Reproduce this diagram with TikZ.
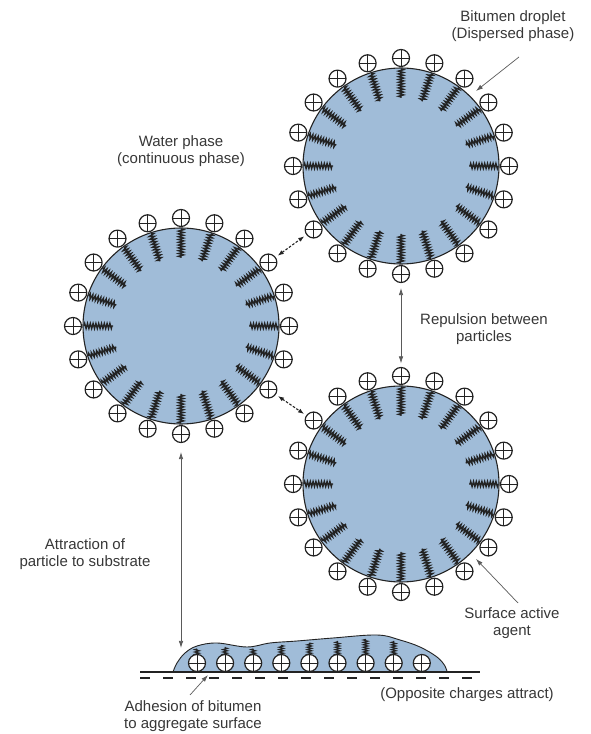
\documentclass[tikz,border=0pt]{standalone}
\usepackage{fontspec}
\setmainfont{Liberation Sans}
\usetikzlibrary{decorations.pathmorphing,arrows.meta}

\definecolor{bitumen}{RGB}{160,188,216}
\definecolor{ink}{RGB}{35,35,35}
\definecolor{txt}{RGB}{55,55,55}

\tikzset{
  droplet/.style={circle, draw=ink, line width=1.1pt, fill=bitumen,
    minimum size=196pt, inner sep=0pt},
  charge/.style={circle, draw=ink, line width=1.2pt, fill=white,
    minimum size=17pt, inner sep=0pt,
    path picture={\draw[ink, line width=0.9pt]
      (path picture bounding box.north) -- (path picture bounding box.south)
      (path picture bounding box.west) -- (path picture bounding box.east);}},
  tail/.style={draw=ink, line width=1.35pt, decorate,
    decoration={zigzag, amplitude=2.6pt, segment length=2.8pt}},
  filmtail/.style={draw=ink, line width=1.1pt, decorate,
    decoration={zigzag, amplitude=2.3pt, segment length=2.4pt}},
  film/.style={draw=ink, line width=0.9pt, fill=bitumen},
  lbl/.style={font=\fontsize{15}{17}\selectfont, text=txt, align=center, inner sep=0pt},
  force/.style={draw=ink!75, line width=0.7pt,
    {Latex[length=7pt,width=4.5pt]}-{Latex[length=7pt,width=4.5pt]}},
  bond/.style={draw=ink, line width=1.1pt, dash pattern=on 2.6pt off 1.6pt,
    {Latex[length=6pt,width=4.5pt]}-{Latex[length=6pt,width=4.5pt]},
    shorten <=2.5pt, shorten >=2.5pt},
  pointer/.style={draw=ink!75, line width=0.7pt, -{Latex[length=7pt,width=4.5pt]}},
}

\begin{document}
\begin{tikzpicture}[x=1pt,y=1pt]
\useasboundingbox (0,0) rectangle (590,734);

% the three droplets
\node[droplet] (d1) at (401,568) {};
\node[droplet] (d2) at (181,408) {};
\node[droplet] (d3) at (401,250) {};

% emulsifier tails and surface charges round each droplet
\foreach \d in {d1,d2,d3} {
  \foreach \k in {0,...,19} {
    \draw[tail] ([shift={(\k*18:97)}]\d.center) -- ([shift={(\k*18:68)}]\d.center);
  }
  \foreach \k in {0,...,19} {
    \node[charge] (\d-c\k) at ([shift={(\k*18:108)}]\d.center) {};
  }
}

% aggregate surface with the spread film
\coordinate (s-l) at (140,62);
\coordinate (s-r) at (480,62);
\coordinate (n-l) at (140,56);
\coordinate (n-r) at (480,56);
\filldraw[film] plot[smooth, tension=0.6] coordinates {
  (173,62) (177,71) (185,81) (197,88) (217,91) (247,87) (270,91) (297,93)
  (333,96) (377,99) (400,94) (420,87) (437,77) (445,68) (447,62)} -- cycle;
\foreach \i/\top in {0/85,1/87,2/85,3/89,4/91,5/93,6/95,7/93} {
  \draw[filmtail] (197+28.1*\i,79) -- (197+28.1*\i,\top);
}
\foreach \i in {0,...,8} {
  \node[charge] (f-c\i) at (197+28.1*\i,71) {};
}
\draw[ink, line width=2.3pt] (s-l) -- (s-r);
\draw[ink, line width=1.1pt, dash pattern=on 10pt off 13pt] (n-l) -- (n-r);

% forces between the particles
\draw[bond] (d2-c2) -- (d1-c12);
\draw[bond] (d2-c18) -- (d3-c8);
\draw[force, shorten <=5pt, shorten >=3.5pt] (d1-c15) -- (d3-c5);
\coordinate (filmtop) at (181,86);
\draw[force, shorten <=9pt] (d2-c15) -- (filmtop);

% labels
\node[lbl] (lb-drop) at (513,707.5) {Bitumen droplet\\(Dispersed phase)};
\node[lbl] (lb-water) at (181,583) {Water phase\\(continuous phase)};
\node[lbl] (lb-rep) at (484,404.5) {Repulsion between\\particles};
\node[lbl] (lb-att) at (85,179.5) {Attraction of\\particle to substrate};
\node[lbl] (lb-saa) at (512,110.5) {Surface active\\agent};
\node[lbl] (lb-adh) at (193,17.5) {Adhesion of bitumen\\to aggregate surface};
\node[lbl] (lb-opp) at (467,39) {(Opposite charges attract)};

% leader lines
\coordinate (p-drop) at (519,677);
\coordinate (t-drop) at ([shift={(45:106)}]d1.center);
\draw[pointer] (p-drop) -- (t-drop);
\coordinate (p-saa) at (518,131);
\coordinate (t-saa) at ([shift={(-45:106)}]d3.center);
\draw[pointer] (p-saa) -- (t-saa);
\coordinate (p-adh) at (190,39);
\coordinate (t-adh) at (208,59);
\draw[pointer] (p-adh) -- (t-adh);
\end{tikzpicture}
\end{document}
